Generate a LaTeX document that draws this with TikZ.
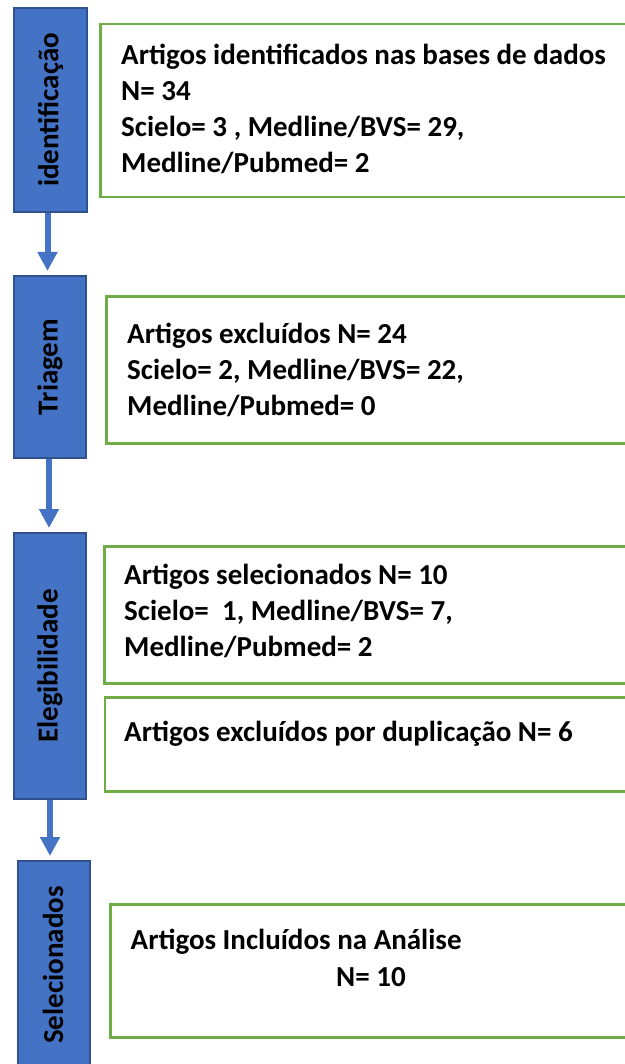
\documentclass[tikz,border=0pt]{standalone}
\usepackage{fontspec}
\setmainfont{Carlito}
\usetikzlibrary{arrows.meta}
\definecolor{stageblue}{HTML}{4472C4}
\definecolor{stageedge}{HTML}{2F528F}
\definecolor{boxgreen}{HTML}{70AD47}
\tikzset{
  stagebox/.style={draw=stageedge, fill=stageblue, line width=2pt, inner sep=0pt, anchor=north west},
  infobox/.style={draw=boxgreen, line width=2.5pt, fill=white, inner sep=0pt, anchor=north west},
  stagelabel/.style={rotate=90, font=\fontsize{29}{34}\selectfont\bfseries, inner sep=0pt},
  line/.style={anchor=base west, font=\fontsize{29}{34}\selectfont\bfseries, inner sep=0pt},
  flow/.style={draw=stageblue, line width=6pt, -{Triangle[width=19pt,length=19pt]}, shorten >=4pt},
}
\begin{document}
\begin{tikzpicture}[x=1pt,y=-1pt]
\useasboundingbox (0,0) rectangle (624,1064);
% stage boxes
\node[stagebox, minimum width=73pt, minimum height=204pt] (s1) at (13,7) {};
\node[stagebox, minimum width=72pt, minimum height=182pt] (s2) at (13,275) {};
\node[stagebox, minimum width=72pt, minimum height=266pt] (s3) at (13,532) {};
\node[stagebox, minimum width=72pt, minimum height=212pt] (s4) at (17,860) {};
\node[stagelabel] (l1) at (s1.center) {identificação};
\node[stagelabel] (l2) at (s2.center) {Triagem};
\node[stagelabel] (l3) at (s3.center) {Elegibilidade};
\node[stagelabel] (l4) at (53,965) {Selecionados};
% flow arrows
\draw[flow] (s1.south -| 47.5,0) -- (s2.north -| 47.5,0);
\draw[flow] (s2.south -| 49,0) -- (s3.north -| 49,0);
\draw[flow] (s3.south -| 50,0) -- (s4.north -| 50,0);
% info boxes
\node[infobox, minimum width=545pt, minimum height=173pt] (g1) at (99,23) {};
\node[infobox, minimum width=540pt, minimum height=147pt] (g2) at (105,295) {};
\node[infobox, minimum width=542pt, minimum height=137pt] (g3) at (103,545) {};
\node[infobox, minimum width=542pt, minimum height=94pt] (g4) at (103.5,696) {};
\node[infobox, minimum width=535pt, minimum height=133pt] (g5) at (109,903) {};
% texts
\node[line] (t11) at (121,65) {Artigos identificados nas bases de dados};
\node[line] (t12) at (121,101) {N= 34};
\node[line] (t13) at (121,137) {Scielo= 3 , Medline/BVS= 29,};
\node[line] (t14) at (121,173) {Medline/Pubmed= 2};
\node[line] (t21) at (127,343) {Artigos excluídos N= 24};
\node[line] (t22) at (127,379) {Scielo= 2, Medline/BVS= 22,};
\node[line] (t23) at (127,415) {Medline/Pubmed= 0};
\node[line] (t31) at (124,584) {Artigos selecionados N= 10};
\node[line] (t32) at (124,620) {Scielo=\ \ 1, Medline/BVS= 7,};
\node[line] (t33) at (124,656) {Medline/Pubmed= 2};
\node[line] (t41) at (124,741) {Artigos excluídos por duplicação N= 6};
\node[line] (t51) at (130.5,949) {Artigos Incluídos na Análise};
\node[line] (t52) at (336,986) {N= 10};
\end{tikzpicture}
\end{document}
